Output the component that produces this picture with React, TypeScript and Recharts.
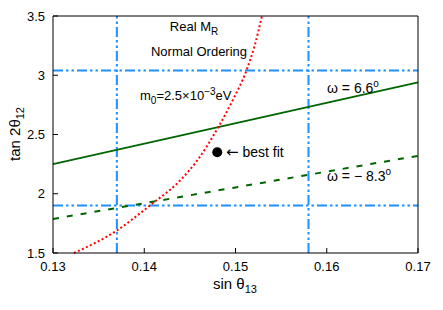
import { ComposedChart, Line, Scatter, XAxis, YAxis, ReferenceLine } from "recharts";

const xTicks = [0.13, 0.14, 0.15, 0.16, 0.17];
const yTicks = [1.5, 2, 2.5, 3, 3.5];

// omega = 6.6 deg (solid)
const posX = [0.13, 0.17];
const posY = [2.25, 2.94];
// omega = -8.3 deg (dashed)
const negX = [0.13, 0.17];
const negY = [1.787, 2.32];
// real M_R curve (dotted red)
const realX = [0.1323, 0.137, 0.1406, 0.1439, 0.1458, 0.1481, 0.1497, 0.1512, 0.1521, 0.1529];
const realY = [1.5, 1.69, 1.9, 2.11, 2.28, 2.56, 2.79, 3.04, 3.25, 3.5];
// best fit point
const bestX = [0.148];
const bestY = [2.35];
// 3 sigma bounds
const boundsX = [0.137, 0.158];
const boundsY = [1.9, 3.04];

const zip = (xs: number[], ys: number[]) => xs.map((x, i) => ({ x, y: ys[i] }));

const font = "'Liberation Sans', Arial, Helvetica, sans-serif";
const blue = "#1e90ff";
const green = "#006400";

export default function App() {
  const tickStyle = { fontSize: 13, fill: "#000", fontFamily: font };
  return (
    <div style={{ position: "absolute", left: 0, top: 0, width: 443, height: 310, background: "#fff" }}>
      <ComposedChart width={443} height={310} margin={{ top: 15, right: 24, left: 0, bottom: 0 }}>
        <XAxis
          dataKey="x"
          type="number"
          domain={[0.13, 0.17]}
          ticks={xTicks}
          tickFormatter={(v: number) => v.toFixed(2)}
          height={57}
          tickSize={-5}
          tickMargin={13.5}
          tick={tickStyle}
          stroke="#000"
        />
        <XAxis
          xAxisId="top"
          orientation="top"
          dataKey="x"
          type="number"
          domain={[0.13, 0.17]}
          ticks={xTicks}
          height={1}
          tickSize={-5}
          tick={false}
          stroke="#000"
        />
        <YAxis
          type="number"
          domain={[1.5, 3.5]}
          ticks={yTicks}
          width={53}
          tickSize={-5}
          tickMargin={13}
          tick={tickStyle}
          stroke="#000"
        />
        <YAxis
          yAxisId="right"
          orientation="right"
          type="number"
          domain={[1.5, 3.5]}
          ticks={yTicks}
          width={1}
          tickSize={-5}
          tick={false}
          stroke="#000"
        />
        {boundsX.map((v) => (
          <ReferenceLine key={"x" + v} x={v} stroke={blue} strokeWidth={2} strokeDasharray="10 3 2.5 3 2.5 3" />
        ))}
        {boundsY.map((v) => (
          <ReferenceLine key={"y" + v} y={v} stroke={blue} strokeWidth={2} strokeDasharray="10 3 2.5 3 2.5 3" />
        ))}
        <Line data={zip(posX, posY)} dataKey="y" type="linear" stroke={green} strokeWidth={1.8} dot={false} activeDot={false} isAnimationActive={false} />
        <Line data={zip(negX, negY)} dataKey="y" type="linear" stroke={green} strokeWidth={2} strokeDasharray="6 8" dot={false} activeDot={false} isAnimationActive={false} />
        <Line data={zip(realX, realY)} dataKey="y" type="monotone" stroke="#ff0000" strokeWidth={2} strokeDasharray="2 2.4" dot={false} activeDot={false} isAnimationActive={false} />
        <Scatter
          data={zip(bestX, bestY)}
          dataKey="y"
          isAnimationActive={false}
          shape={(p: any) => <circle cx={p.cx} cy={p.cy} r={5} fill="#000" />}
        />
      </ComposedChart>
      <svg width={443} height={310} style={{ position: "absolute", left: 0, top: 0, pointerEvents: "none" }} fontFamily={font} fill="#000">
        <text x={194} y={31} fontSize={13} textAnchor="middle">
          Real M<tspan fontSize={10} dy={4}>R</tspan>
        </text>
        <text x={199} y={56} fontSize={13} textAnchor="middle">Normal Ordering</text>
        <text x={140} y={100} fontSize={13}>
          m<tspan fontSize={10} dy={4}>0</tspan>
          <tspan dy={-4}>=2.5×10</tspan>
          <tspan fontSize={10} dy={-5}>−3</tspan>
          <tspan dy={5}>eV</tspan>
        </text>
        <text x={327} y={93} fontSize={14}>
          ω = 6.6<tspan fontSize={10} dy={-6}>o</tspan>
        </text>
        <text x={327} y={181} fontSize={14}>
          ω = − 8.3<tspan fontSize={10} dy={-6}>o</tspan>
        </text>
        <text x={226} y={157} fontSize={14}>
          <tspan fontFamily="'DejaVu Sans', sans-serif" fontSize={15}>←</tspan> best fit
        </text>
        <text x={213} y={289} fontSize={15}>
          sin θ<tspan fontSize={11} dy={4}>13</tspan>
        </text>
        <text transform="translate(20,134) rotate(-90)" fontSize={15} textAnchor="middle">
          tan 2θ<tspan fontSize={11} dy={4}>12</tspan>
        </text>
      </svg>
    </div>
  );
}
